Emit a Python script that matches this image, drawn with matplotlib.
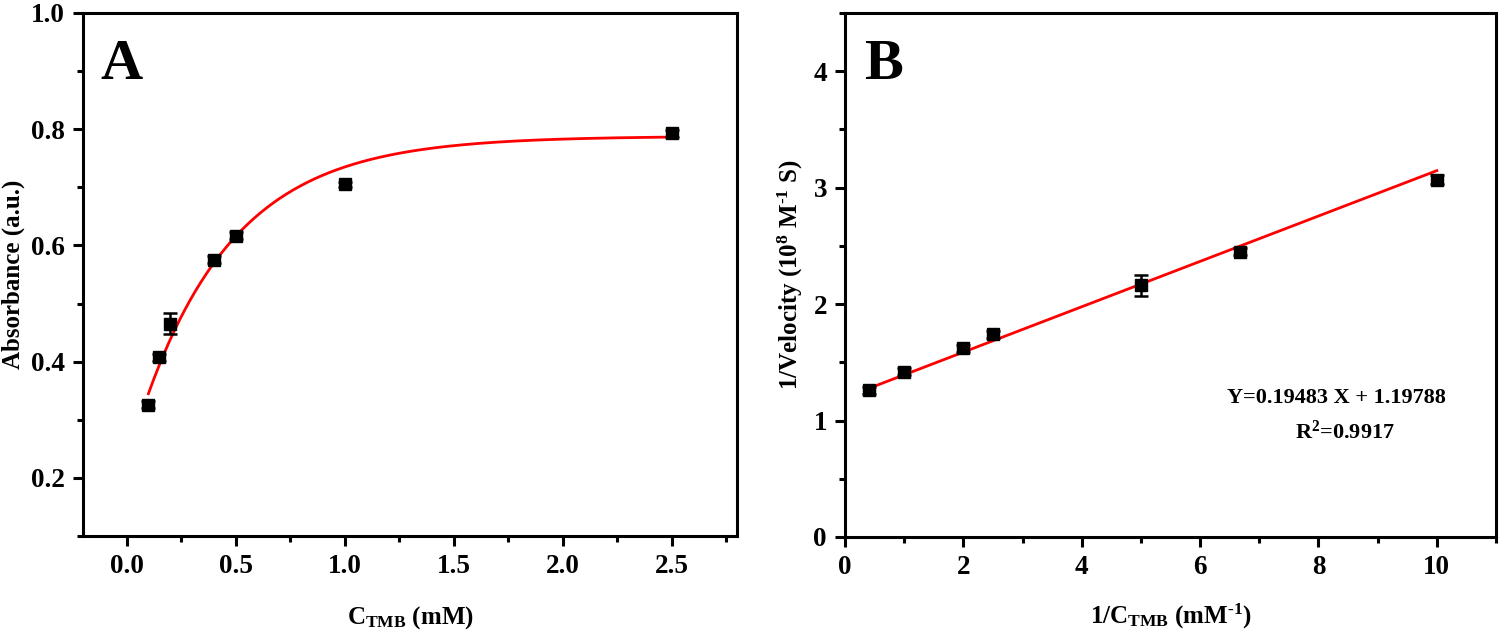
import numpy as np
import matplotlib
matplotlib.use("Agg")
import matplotlib.pyplot as plt
from matplotlib.ticker import MultipleLocator

plt.rcParams['font.family'] = ['Liberation Serif', 'DejaVu Serif']
plt.rcParams['font.weight'] = 'bold'
plt.rcParams['mathtext.fontset'] = 'custom'
plt.rcParams['mathtext.rm'] = 'Liberation Serif:bold'
plt.rcParams['mathtext.bf'] = 'Liberation Serif:bold'
plt.rcParams['mathtext.it'] = 'Liberation Serif:bold'

# Panel A data
conc = [0.1, 0.15, 0.2, 0.4, 0.5, 1.0, 2.5]
absorb = [0.326, 0.408, 0.465, 0.575, 0.617, 0.705, 0.793]
absorb_err = [0.006, 0.006, 0.018, 0.006, 0.006, 0.005, 0.006]
# saturating fit parameters (y = ymax - B*exp(-x/t))
fit_ymax, fit_B, fit_t = 0.788, 0.561, 0.424

# Panel B data
inv_conc = [0.4, 1.0, 2.0, 2.5, 5.0, 6.667, 10.0]
inv_vel = [1.26, 1.42, 1.62, 1.74, 2.16, 2.45, 3.07]
inv_vel_err = [0.03, 0.03, 0.03, 0.03, 0.09, 0.03, 0.04]
slope, intercept = 0.19483, 1.19788

fig = plt.figure(figsize=(15, 6.35), dpi=100)
axA = fig.add_axes([83/1500, 1-536/635, 654/1500, 523/635])
axB = fig.add_axes([845/1500, 1-537/635, 651/1500, 524/635])

tick_fs = 19.5
label_fs = 18

for ax in (axA, axB):
    for s in ax.spines.values():
        s.set_linewidth(2.2)
    ax.tick_params(which='major', direction='out', length=7, width=2.2, labelsize=tick_fs, pad=6)
    ax.tick_params(which='minor', direction='out', length=4, width=2.2)

# Panel A
xs = np.linspace(conc[0], conc[-1], 300)
axA.plot(xs, fit_ymax - fit_B*np.exp(-xs/fit_t), color='red', lw=2, zorder=2)
axA.errorbar(conc, absorb, yerr=absorb_err, fmt='s', color='black', ms=8,
             capsize=5, elinewidth=1.8, capthick=1.8, zorder=3)
axA.set_xlim(-0.2, 2.8)
axA.set_ylim(0.1, 1.0)
axA.xaxis.set_minor_locator(MultipleLocator(0.25))
axA.yaxis.set_minor_locator(MultipleLocator(0.1))
axA.set_xticks([0.0, 0.5, 1.0, 1.5, 2.0, 2.5])
axA.set_xticklabels(['0.0', '0.5', '1.0', '1.5', '2.0', '2.5'], fontweight='bold', fontsize=tick_fs)
axA.set_yticks([0.2, 0.4, 0.6, 0.8, 1.0])
axA.set_yticklabels(['0.2', '0.4', '0.6', '0.8', '1.0'], fontweight='bold', fontsize=tick_fs)
axA.set_xlabel(r'C$_{\rm TMB}$ (mM)', fontsize=label_fs, fontweight='bold', labelpad=18)
axA.set_ylabel('Absorbance (a.u.)', fontsize=label_fs, fontweight='bold', labelpad=4)
axA.text(0.027, 0.95, 'A', transform=axA.transAxes, fontsize=42, fontweight='bold', va='top', ha='left')

# Panel B
xl = np.array([inv_conc[0], inv_conc[-1]])
axB.plot(xl, slope*xl + intercept, color='red', lw=2, zorder=2)
axB.errorbar(inv_conc, inv_vel, yerr=inv_vel_err, fmt='s', color='black', ms=8,
             capsize=5, elinewidth=1.8, capthick=1.8, zorder=3)
axB.set_xlim(0, 11)
axB.set_ylim(0, 4.5)
axB.set_xticks([0, 2, 4, 6, 8, 10])
axB.set_xticklabels(['0', '2', '4', '6', '8', '10'], fontweight='bold', fontsize=tick_fs)
axB.xaxis.set_minor_locator(MultipleLocator(1))
axB.set_yticks([0, 1, 2, 3, 4])
axB.set_yticklabels(['0', '1', '2', '3', '4'], fontweight='bold', fontsize=tick_fs)
axB.yaxis.set_minor_locator(MultipleLocator(0.5))
axB.set_xlabel(r'1/C$_{\rm TMB}$ (mM$^{\text{-}1}$)', fontsize=label_fs, fontweight='bold', labelpad=16)
axB.set_ylabel(r'1/Velocity (10$^{8}$ M$^{\text{-}1}$ S)', fontsize=label_fs, fontweight='bold', labelpad=6)
axB.text(0.03, 0.95, 'B', transform=axB.transAxes, fontsize=42, fontweight='bold', va='top', ha='left')
axB.text(0.755, 0.265, 'Y=0.19483 X + 1.19788', transform=axB.transAxes, fontsize=16,
         fontweight='bold', ha='center', va='center')
axB.text(0.768, 0.2, r'R$^{2}$=0.9917', transform=axB.transAxes, fontsize=16,
         fontweight='bold', ha='center', va='center')

fig.savefig('out.png', dpi=100)
